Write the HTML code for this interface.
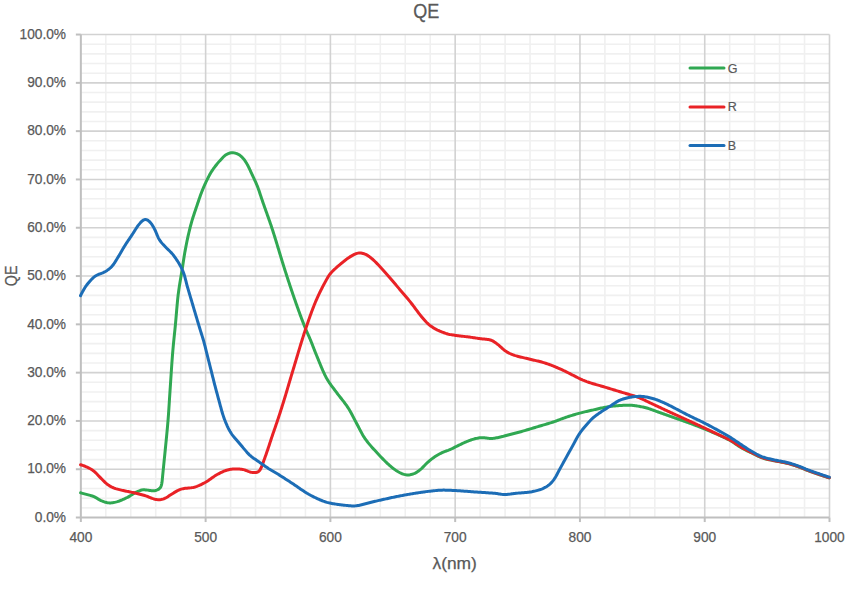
<!DOCTYPE html>
<html><head><meta charset="utf-8"><style>
html,body{margin:0;padding:0;background:#fff;}
body{width:864px;height:594px;overflow:hidden;}
svg{display:block;}
text{font-family:"Liberation Sans",sans-serif;fill:#595959;}
.lab{font-size:14.6px;stroke:#595959;stroke-width:0.25px;}
.title{font-size:21px;stroke:#595959;stroke-width:0.3px;}
.axt{font-size:17px;stroke:#595959;stroke-width:0.25px;}
.axt2{font-size:16px;stroke:#595959;stroke-width:0.25px;}
.leg{font-size:12.5px;stroke:#595959;stroke-width:0.2px;}
</style></head><body>
<svg width="864" height="594" viewBox="0 0 864 594">
<rect width="864" height="594" fill="#fff"/>
<g transform="translate(0,0.3)">
<line x1="105.80" y1="34.25" x2="105.80" y2="517.25" stroke="#f0f0f0" stroke-width="1.6"/>
<line x1="130.76" y1="34.25" x2="130.76" y2="517.25" stroke="#f0f0f0" stroke-width="1.6"/>
<line x1="155.71" y1="34.25" x2="155.71" y2="517.25" stroke="#f0f0f0" stroke-width="1.6"/>
<line x1="180.67" y1="34.25" x2="180.67" y2="517.25" stroke="#f0f0f0" stroke-width="1.6"/>
<line x1="230.58" y1="34.25" x2="230.58" y2="517.25" stroke="#f0f0f0" stroke-width="1.6"/>
<line x1="255.53" y1="34.25" x2="255.53" y2="517.25" stroke="#f0f0f0" stroke-width="1.6"/>
<line x1="280.49" y1="34.25" x2="280.49" y2="517.25" stroke="#f0f0f0" stroke-width="1.6"/>
<line x1="305.44" y1="34.25" x2="305.44" y2="517.25" stroke="#f0f0f0" stroke-width="1.6"/>
<line x1="355.36" y1="34.25" x2="355.36" y2="517.25" stroke="#f0f0f0" stroke-width="1.6"/>
<line x1="380.31" y1="34.25" x2="380.31" y2="517.25" stroke="#f0f0f0" stroke-width="1.6"/>
<line x1="405.26" y1="34.25" x2="405.26" y2="517.25" stroke="#f0f0f0" stroke-width="1.6"/>
<line x1="430.22" y1="34.25" x2="430.22" y2="517.25" stroke="#f0f0f0" stroke-width="1.6"/>
<line x1="480.13" y1="34.25" x2="480.13" y2="517.25" stroke="#f0f0f0" stroke-width="1.6"/>
<line x1="505.08" y1="34.25" x2="505.08" y2="517.25" stroke="#f0f0f0" stroke-width="1.6"/>
<line x1="530.04" y1="34.25" x2="530.04" y2="517.25" stroke="#f0f0f0" stroke-width="1.6"/>
<line x1="555.00" y1="34.25" x2="555.00" y2="517.25" stroke="#f0f0f0" stroke-width="1.6"/>
<line x1="604.90" y1="34.25" x2="604.90" y2="517.25" stroke="#f0f0f0" stroke-width="1.6"/>
<line x1="629.86" y1="34.25" x2="629.86" y2="517.25" stroke="#f0f0f0" stroke-width="1.6"/>
<line x1="654.81" y1="34.25" x2="654.81" y2="517.25" stroke="#f0f0f0" stroke-width="1.6"/>
<line x1="679.77" y1="34.25" x2="679.77" y2="517.25" stroke="#f0f0f0" stroke-width="1.6"/>
<line x1="729.68" y1="34.25" x2="729.68" y2="517.25" stroke="#f0f0f0" stroke-width="1.6"/>
<line x1="754.63" y1="34.25" x2="754.63" y2="517.25" stroke="#f0f0f0" stroke-width="1.6"/>
<line x1="779.59" y1="34.25" x2="779.59" y2="517.25" stroke="#f0f0f0" stroke-width="1.6"/>
<line x1="804.54" y1="34.25" x2="804.54" y2="517.25" stroke="#f0f0f0" stroke-width="1.6"/>
<line x1="80.85" y1="507.59" x2="829.50" y2="507.59" stroke="#f0f0f0" stroke-width="1.6"/>
<line x1="80.85" y1="497.93" x2="829.50" y2="497.93" stroke="#f0f0f0" stroke-width="1.6"/>
<line x1="80.85" y1="488.27" x2="829.50" y2="488.27" stroke="#f0f0f0" stroke-width="1.6"/>
<line x1="80.85" y1="478.61" x2="829.50" y2="478.61" stroke="#f0f0f0" stroke-width="1.6"/>
<line x1="80.85" y1="459.29" x2="829.50" y2="459.29" stroke="#f0f0f0" stroke-width="1.6"/>
<line x1="80.85" y1="449.63" x2="829.50" y2="449.63" stroke="#f0f0f0" stroke-width="1.6"/>
<line x1="80.85" y1="439.97" x2="829.50" y2="439.97" stroke="#f0f0f0" stroke-width="1.6"/>
<line x1="80.85" y1="430.31" x2="829.50" y2="430.31" stroke="#f0f0f0" stroke-width="1.6"/>
<line x1="80.85" y1="410.99" x2="829.50" y2="410.99" stroke="#f0f0f0" stroke-width="1.6"/>
<line x1="80.85" y1="401.33" x2="829.50" y2="401.33" stroke="#f0f0f0" stroke-width="1.6"/>
<line x1="80.85" y1="391.67" x2="829.50" y2="391.67" stroke="#f0f0f0" stroke-width="1.6"/>
<line x1="80.85" y1="382.01" x2="829.50" y2="382.01" stroke="#f0f0f0" stroke-width="1.6"/>
<line x1="80.85" y1="362.69" x2="829.50" y2="362.69" stroke="#f0f0f0" stroke-width="1.6"/>
<line x1="80.85" y1="353.03" x2="829.50" y2="353.03" stroke="#f0f0f0" stroke-width="1.6"/>
<line x1="80.85" y1="343.37" x2="829.50" y2="343.37" stroke="#f0f0f0" stroke-width="1.6"/>
<line x1="80.85" y1="333.71" x2="829.50" y2="333.71" stroke="#f0f0f0" stroke-width="1.6"/>
<line x1="80.85" y1="314.39" x2="829.50" y2="314.39" stroke="#f0f0f0" stroke-width="1.6"/>
<line x1="80.85" y1="304.73" x2="829.50" y2="304.73" stroke="#f0f0f0" stroke-width="1.6"/>
<line x1="80.85" y1="295.07" x2="829.50" y2="295.07" stroke="#f0f0f0" stroke-width="1.6"/>
<line x1="80.85" y1="285.41" x2="829.50" y2="285.41" stroke="#f0f0f0" stroke-width="1.6"/>
<line x1="80.85" y1="266.09" x2="829.50" y2="266.09" stroke="#f0f0f0" stroke-width="1.6"/>
<line x1="80.85" y1="256.43" x2="829.50" y2="256.43" stroke="#f0f0f0" stroke-width="1.6"/>
<line x1="80.85" y1="246.77" x2="829.50" y2="246.77" stroke="#f0f0f0" stroke-width="1.6"/>
<line x1="80.85" y1="237.11" x2="829.50" y2="237.11" stroke="#f0f0f0" stroke-width="1.6"/>
<line x1="80.85" y1="217.79" x2="829.50" y2="217.79" stroke="#f0f0f0" stroke-width="1.6"/>
<line x1="80.85" y1="208.13" x2="829.50" y2="208.13" stroke="#f0f0f0" stroke-width="1.6"/>
<line x1="80.85" y1="198.47" x2="829.50" y2="198.47" stroke="#f0f0f0" stroke-width="1.6"/>
<line x1="80.85" y1="188.81" x2="829.50" y2="188.81" stroke="#f0f0f0" stroke-width="1.6"/>
<line x1="80.85" y1="169.49" x2="829.50" y2="169.49" stroke="#f0f0f0" stroke-width="1.6"/>
<line x1="80.85" y1="159.83" x2="829.50" y2="159.83" stroke="#f0f0f0" stroke-width="1.6"/>
<line x1="80.85" y1="150.17" x2="829.50" y2="150.17" stroke="#f0f0f0" stroke-width="1.6"/>
<line x1="80.85" y1="140.51" x2="829.50" y2="140.51" stroke="#f0f0f0" stroke-width="1.6"/>
<line x1="80.85" y1="121.19" x2="829.50" y2="121.19" stroke="#f0f0f0" stroke-width="1.6"/>
<line x1="80.85" y1="111.53" x2="829.50" y2="111.53" stroke="#f0f0f0" stroke-width="1.6"/>
<line x1="80.85" y1="101.87" x2="829.50" y2="101.87" stroke="#f0f0f0" stroke-width="1.6"/>
<line x1="80.85" y1="92.21" x2="829.50" y2="92.21" stroke="#f0f0f0" stroke-width="1.6"/>
<line x1="80.85" y1="72.89" x2="829.50" y2="72.89" stroke="#f0f0f0" stroke-width="1.6"/>
<line x1="80.85" y1="63.23" x2="829.50" y2="63.23" stroke="#f0f0f0" stroke-width="1.6"/>
<line x1="80.85" y1="53.57" x2="829.50" y2="53.57" stroke="#f0f0f0" stroke-width="1.6"/>
<line x1="80.85" y1="43.91" x2="829.50" y2="43.91" stroke="#f0f0f0" stroke-width="1.6"/>
<line x1="205.62" y1="34.25" x2="205.62" y2="517.25" stroke="#d2d2d2" stroke-width="1.6"/>
<line x1="330.40" y1="34.25" x2="330.40" y2="517.25" stroke="#d2d2d2" stroke-width="1.6"/>
<line x1="455.17" y1="34.25" x2="455.17" y2="517.25" stroke="#d2d2d2" stroke-width="1.6"/>
<line x1="579.95" y1="34.25" x2="579.95" y2="517.25" stroke="#d2d2d2" stroke-width="1.6"/>
<line x1="704.73" y1="34.25" x2="704.73" y2="517.25" stroke="#d2d2d2" stroke-width="1.6"/>
<line x1="829.50" y1="34.25" x2="829.50" y2="517.25" stroke="#d2d2d2" stroke-width="1.6"/>
<line x1="80.85" y1="468.95" x2="829.50" y2="468.95" stroke="#d2d2d2" stroke-width="1.6"/>
<line x1="80.85" y1="420.65" x2="829.50" y2="420.65" stroke="#d2d2d2" stroke-width="1.6"/>
<line x1="80.85" y1="372.35" x2="829.50" y2="372.35" stroke="#d2d2d2" stroke-width="1.6"/>
<line x1="80.85" y1="324.05" x2="829.50" y2="324.05" stroke="#d2d2d2" stroke-width="1.6"/>
<line x1="80.85" y1="275.75" x2="829.50" y2="275.75" stroke="#d2d2d2" stroke-width="1.6"/>
<line x1="80.85" y1="227.45" x2="829.50" y2="227.45" stroke="#d2d2d2" stroke-width="1.6"/>
<line x1="80.85" y1="179.15" x2="829.50" y2="179.15" stroke="#d2d2d2" stroke-width="1.6"/>
<line x1="80.85" y1="130.85" x2="829.50" y2="130.85" stroke="#d2d2d2" stroke-width="1.6"/>
<line x1="80.85" y1="82.55" x2="829.50" y2="82.55" stroke="#d2d2d2" stroke-width="1.6"/>
<line x1="80.85" y1="34.25" x2="829.50" y2="34.25" stroke="#d2d2d2" stroke-width="1.6"/>
<line x1="80.85" y1="34.25" x2="80.85" y2="521.75" stroke="#bfbfbf" stroke-width="2"/>
<line x1="75.85" y1="517.25" x2="829.50" y2="517.25" stroke="#bfbfbf" stroke-width="2"/>
<line x1="75.85" y1="468.95" x2="80.85" y2="468.95" stroke="#bfbfbf" stroke-width="2"/>
<line x1="75.85" y1="420.65" x2="80.85" y2="420.65" stroke="#bfbfbf" stroke-width="2"/>
<line x1="75.85" y1="372.35" x2="80.85" y2="372.35" stroke="#bfbfbf" stroke-width="2"/>
<line x1="75.85" y1="324.05" x2="80.85" y2="324.05" stroke="#bfbfbf" stroke-width="2"/>
<line x1="75.85" y1="275.75" x2="80.85" y2="275.75" stroke="#bfbfbf" stroke-width="2"/>
<line x1="75.85" y1="227.45" x2="80.85" y2="227.45" stroke="#bfbfbf" stroke-width="2"/>
<line x1="75.85" y1="179.15" x2="80.85" y2="179.15" stroke="#bfbfbf" stroke-width="2"/>
<line x1="75.85" y1="130.85" x2="80.85" y2="130.85" stroke="#bfbfbf" stroke-width="2"/>
<line x1="75.85" y1="82.55" x2="80.85" y2="82.55" stroke="#bfbfbf" stroke-width="2"/>
<line x1="75.85" y1="34.25" x2="80.85" y2="34.25" stroke="#bfbfbf" stroke-width="2"/>
<line x1="205.62" y1="517.25" x2="205.62" y2="521.75" stroke="#bfbfbf" stroke-width="2"/>
<line x1="330.40" y1="517.25" x2="330.40" y2="521.75" stroke="#bfbfbf" stroke-width="2"/>
<line x1="455.17" y1="517.25" x2="455.17" y2="521.75" stroke="#bfbfbf" stroke-width="2"/>
<line x1="579.95" y1="517.25" x2="579.95" y2="521.75" stroke="#bfbfbf" stroke-width="2"/>
<line x1="704.73" y1="517.25" x2="704.73" y2="521.75" stroke="#bfbfbf" stroke-width="2"/>
<line x1="829.50" y1="517.25" x2="829.50" y2="521.75" stroke="#bfbfbf" stroke-width="2"/>
</g>
<text x="66" y="521.75" text-anchor="end" class="lab" textLength="31.22" lengthAdjust="spacingAndGlyphs">0.0%</text>
<text x="66" y="473.45" text-anchor="end" class="lab" textLength="38.84" lengthAdjust="spacingAndGlyphs">10.0%</text>
<text x="66" y="425.15" text-anchor="end" class="lab" textLength="38.84" lengthAdjust="spacingAndGlyphs">20.0%</text>
<text x="66" y="376.85" text-anchor="end" class="lab" textLength="38.84" lengthAdjust="spacingAndGlyphs">30.0%</text>
<text x="66" y="328.55" text-anchor="end" class="lab" textLength="38.84" lengthAdjust="spacingAndGlyphs">40.0%</text>
<text x="66" y="280.25" text-anchor="end" class="lab" textLength="38.84" lengthAdjust="spacingAndGlyphs">50.0%</text>
<text x="66" y="231.95" text-anchor="end" class="lab" textLength="38.84" lengthAdjust="spacingAndGlyphs">60.0%</text>
<text x="66" y="183.65" text-anchor="end" class="lab" textLength="38.84" lengthAdjust="spacingAndGlyphs">70.0%</text>
<text x="66" y="135.35" text-anchor="end" class="lab" textLength="38.84" lengthAdjust="spacingAndGlyphs">80.0%</text>
<text x="66" y="87.05" text-anchor="end" class="lab" textLength="38.84" lengthAdjust="spacingAndGlyphs">90.0%</text>
<text x="66" y="38.75" text-anchor="end" class="lab" textLength="46.46" lengthAdjust="spacingAndGlyphs">100.0%</text>
<text x="80.85" y="542" text-anchor="middle" class="lab" textLength="22.85" lengthAdjust="spacingAndGlyphs">400</text>
<text x="205.62" y="542" text-anchor="middle" class="lab" textLength="22.85" lengthAdjust="spacingAndGlyphs">500</text>
<text x="330.40" y="542" text-anchor="middle" class="lab" textLength="22.85" lengthAdjust="spacingAndGlyphs">600</text>
<text x="455.17" y="542" text-anchor="middle" class="lab" textLength="22.85" lengthAdjust="spacingAndGlyphs">700</text>
<text x="579.95" y="542" text-anchor="middle" class="lab" textLength="22.85" lengthAdjust="spacingAndGlyphs">800</text>
<text x="704.73" y="542" text-anchor="middle" class="lab" textLength="22.85" lengthAdjust="spacingAndGlyphs">900</text>
<text x="829.50" y="542" text-anchor="middle" class="lab" textLength="30.47" lengthAdjust="spacingAndGlyphs">1000</text>
<text x="426.2" y="18" text-anchor="middle" class="title" textLength="26" lengthAdjust="spacingAndGlyphs">QE</text>
<text x="454.7" y="569.3" text-anchor="middle" class="axt" textLength="44.5" lengthAdjust="spacingAndGlyphs">λ(nm)</text>
<text transform="translate(17.3,275.9) rotate(-90)" x="0" y="0" text-anchor="middle" class="axt2" textLength="20.6" lengthAdjust="spacingAndGlyphs">QE</text>
<g transform="translate(0,0.3)">
<path d="M80.60,492.50 L81.56,492.77 L82.52,493.04 L83.49,493.31 L84.45,493.58 L85.41,493.85 L86.38,494.11 L87.35,494.37 L88.31,494.62 L89.28,494.87 L90.25,495.12 L91.21,495.38 L92.17,495.67 L93.11,495.99 L94.04,496.37 L94.93,496.80 L95.81,497.28 L96.66,497.79 L97.51,498.33 L98.35,498.86 L99.21,499.37 L100.09,499.85 L100.98,500.28 L101.90,500.68 L102.83,501.05 L103.76,501.40 L104.71,501.72 L105.66,502.01 L106.63,502.26 L107.61,502.44 L108.59,502.57 L109.59,502.63 L110.58,502.62 L111.58,502.55 L112.57,502.44 L113.55,502.28 L114.53,502.09 L115.51,501.86 L116.47,501.61 L117.43,501.33 L118.38,501.01 L119.32,500.68 L120.25,500.32 L121.18,499.96 L122.11,499.58 L123.03,499.18 L123.94,498.78 L124.85,498.36 L125.75,497.92 L126.64,497.47 L127.53,497.01 L128.41,496.53 L129.28,496.04 L130.14,495.54 L130.99,495.01 L131.82,494.46 L132.65,493.91 L133.49,493.36 L134.34,492.84 L135.22,492.36 L136.11,491.92 L137.02,491.51 L137.94,491.12 L138.86,490.73 L139.79,490.36 L140.72,490.01 L141.67,489.74 L142.64,489.56 L143.62,489.49 L144.61,489.51 L145.61,489.58 L146.60,489.69 L147.59,489.83 L148.58,489.98 L149.57,490.13 L150.55,490.28 L151.54,490.41 L152.53,490.48 L153.52,490.47 L154.51,490.36 L155.48,490.17 L156.43,489.90 L157.36,489.56 L158.24,489.13 L159.05,488.59 L159.78,487.94 L160.38,487.19 L160.86,486.35 L161.23,485.44 L161.51,484.49 L161.73,483.52 L161.91,482.54 L162.05,481.55 L162.16,480.56 L162.26,479.56 L162.36,478.57 L162.45,477.57 L162.55,476.58 L162.64,475.58 L162.74,474.59 L162.84,473.59 L162.94,472.60 L163.04,471.60 L163.14,470.61 L163.24,469.61 L163.34,468.62 L163.44,467.62 L163.54,466.63 L163.64,465.63 L163.74,464.64 L163.84,463.64 L163.94,462.65 L164.04,461.65 L164.14,460.66 L164.24,459.66 L164.34,458.67 L164.44,457.67 L164.54,456.68 L164.64,455.68 L164.74,454.69 L164.84,453.69 L164.94,452.70 L165.04,451.70 L165.14,450.71 L165.23,449.71 L165.33,448.72 L165.43,447.72 L165.53,446.72 L165.62,445.73 L165.72,444.73 L165.82,443.74 L165.92,442.74 L166.02,441.75 L166.12,440.75 L166.21,439.76 L166.31,438.76 L166.41,437.77 L166.51,436.77 L166.61,435.78 L166.70,434.78 L166.80,433.79 L166.89,432.79 L166.99,431.80 L167.08,430.80 L167.18,429.80 L167.27,428.81 L167.36,427.81 L167.45,426.82 L167.54,425.82 L167.63,424.83 L167.71,423.83 L167.80,422.83 L167.88,421.84 L167.97,420.84 L168.05,419.84 L168.13,418.85 L168.21,417.85 L168.29,416.85 L168.36,415.86 L168.44,414.86 L168.51,413.86 L168.58,412.86 L168.65,411.87 L168.72,410.87 L168.78,409.87 L168.85,408.87 L168.91,407.87 L168.98,406.88 L169.04,405.88 L169.11,404.88 L169.17,403.88 L169.23,402.88 L169.30,401.89 L169.36,400.89 L169.42,399.89 L169.49,398.89 L169.55,397.89 L169.61,396.90 L169.68,395.90 L169.74,394.90 L169.81,393.90 L169.87,392.91 L169.94,391.91 L170.01,390.91 L170.07,389.91 L170.14,388.91 L170.21,387.92 L170.27,386.92 L170.34,385.92 L170.41,384.92 L170.47,383.93 L170.54,382.93 L170.60,381.93 L170.67,380.93 L170.73,379.93 L170.80,378.94 L170.86,377.94 L170.93,376.94 L171.00,375.94 L171.06,374.94 L171.13,373.95 L171.19,372.95 L171.26,371.95 L171.33,370.95 L171.39,369.96 L171.46,368.96 L171.53,367.96 L171.59,366.96 L171.66,365.96 L171.73,364.97 L171.80,363.97 L171.87,362.97 L171.94,361.97 L172.01,360.98 L172.08,359.98 L172.16,358.98 L172.23,357.98 L172.31,356.99 L172.38,355.99 L172.46,354.99 L172.54,354.00 L172.62,353.00 L172.70,352.00 L172.79,351.01 L172.87,350.01 L172.96,349.01 L173.05,348.02 L173.14,347.02 L173.23,346.03 L173.32,345.03 L173.42,344.04 L173.52,343.04 L173.61,342.05 L173.71,341.05 L173.81,340.06 L173.92,339.06 L174.02,338.07 L174.12,337.07 L174.22,336.08 L174.33,335.08 L174.43,334.09 L174.54,333.09 L174.64,332.10 L174.74,331.10 L174.85,330.11 L174.95,329.11 L175.05,328.12 L175.15,327.12 L175.25,326.13 L175.34,325.13 L175.44,324.14 L175.53,323.14 L175.62,322.15 L175.71,321.15 L175.80,320.15 L175.89,319.16 L175.98,318.16 L176.06,317.17 L176.15,316.17 L176.23,315.17 L176.32,314.18 L176.40,313.18 L176.48,312.18 L176.57,311.19 L176.65,310.19 L176.74,309.19 L176.82,308.20 L176.91,307.20 L176.99,306.21 L177.08,305.21 L177.17,304.21 L177.26,303.22 L177.35,302.22 L177.44,301.23 L177.54,300.23 L177.64,299.24 L177.74,298.24 L177.85,297.25 L177.96,296.25 L178.07,295.26 L178.20,294.27 L178.32,293.27 L178.45,292.28 L178.59,291.29 L178.72,290.30 L178.86,289.31 L179.01,288.32 L179.15,287.33 L179.30,286.34 L179.45,285.36 L179.61,284.37 L179.77,283.38 L179.93,282.39 L180.09,281.41 L180.26,280.42 L180.42,279.43 L180.59,278.45 L180.76,277.46 L180.92,276.48 L181.09,275.49 L181.26,274.50 L181.42,273.52 L181.59,272.53 L181.75,271.55 L181.91,270.56 L182.07,269.57 L182.22,268.58 L182.38,267.59 L182.53,266.61 L182.68,265.62 L182.83,264.63 L182.99,263.64 L183.14,262.65 L183.29,261.66 L183.44,260.68 L183.60,259.69 L183.75,258.70 L183.91,257.71 L184.07,256.73 L184.23,255.74 L184.39,254.75 L184.55,253.76 L184.72,252.78 L184.89,251.79 L185.07,250.81 L185.24,249.83 L185.43,248.84 L185.61,247.86 L185.80,246.88 L185.99,245.89 L186.18,244.91 L186.37,243.93 L186.57,242.95 L186.77,241.97 L186.97,240.99 L187.17,240.01 L187.38,239.04 L187.59,238.06 L187.81,237.08 L188.02,236.10 L188.24,235.13 L188.47,234.15 L188.69,233.18 L188.92,232.21 L189.15,231.23 L189.38,230.26 L189.62,229.29 L189.86,228.32 L190.10,227.35 L190.34,226.38 L190.59,225.41 L190.85,224.44 L191.11,223.48 L191.37,222.51 L191.65,221.55 L191.93,220.59 L192.22,219.63 L192.51,218.68 L192.81,217.72 L193.11,216.77 L193.41,215.82 L193.72,214.87 L194.03,213.92 L194.35,212.97 L194.66,212.02 L194.98,211.07 L195.31,210.12 L195.63,209.18 L195.95,208.23 L196.27,207.28 L196.59,206.34 L196.92,205.39 L197.24,204.44 L197.55,203.50 L197.87,202.55 L198.19,201.60 L198.51,200.65 L198.83,199.70 L199.15,198.76 L199.47,197.81 L199.80,196.86 L200.13,195.92 L200.47,194.98 L200.81,194.04 L201.16,193.10 L201.52,192.17 L201.88,191.24 L202.25,190.31 L202.63,189.38 L203.01,188.46 L203.39,187.53 L203.78,186.61 L204.18,185.70 L204.58,184.78 L204.99,183.87 L205.41,182.96 L205.83,182.06 L206.26,181.15 L206.70,180.25 L207.14,179.35 L207.58,178.46 L208.03,177.56 L208.48,176.67 L208.94,175.78 L209.41,174.90 L209.89,174.03 L210.39,173.16 L210.90,172.30 L211.42,171.45 L211.96,170.60 L212.51,169.77 L213.08,168.94 L213.65,168.13 L214.24,167.32 L214.84,166.52 L215.45,165.72 L216.06,164.94 L216.69,164.16 L217.32,163.38 L217.96,162.61 L218.60,161.85 L219.26,161.09 L219.92,160.34 L220.59,159.60 L221.27,158.87 L221.95,158.13 L222.63,157.40 L223.32,156.68 L224.04,155.99 L224.79,155.34 L225.59,154.75 L226.43,154.22 L227.31,153.76 L228.22,153.35 L229.15,153.00 L230.10,152.72 L231.07,152.53 L232.05,152.44 L233.04,152.45 L234.02,152.57 L234.99,152.77 L235.95,153.04 L236.89,153.36 L237.80,153.75 L238.68,154.21 L239.52,154.75 L240.31,155.34 L241.07,155.99 L241.80,156.66 L242.51,157.37 L243.19,158.10 L243.83,158.87 L244.43,159.66 L245.01,160.48 L245.55,161.31 L246.08,162.16 L246.60,163.02 L247.10,163.88 L247.59,164.76 L248.06,165.64 L248.51,166.53 L248.95,167.42 L249.38,168.33 L249.81,169.23 L250.23,170.14 L250.64,171.05 L251.06,171.96 L251.47,172.87 L251.89,173.78 L252.32,174.68 L252.74,175.59 L253.17,176.49 L253.59,177.40 L254.02,178.30 L254.44,179.21 L254.86,180.12 L255.27,181.03 L255.68,181.94 L256.08,182.86 L256.47,183.78 L256.86,184.70 L257.24,185.63 L257.61,186.55 L257.96,187.49 L258.31,188.43 L258.65,189.37 L258.98,190.31 L259.30,191.26 L259.62,192.21 L259.93,193.15 L260.25,194.10 L260.56,195.06 L260.87,196.01 L261.18,196.96 L261.50,197.90 L261.81,198.85 L262.14,199.80 L262.46,200.75 L262.79,201.69 L263.12,202.63 L263.45,203.58 L263.78,204.52 L264.11,205.46 L264.45,206.41 L264.78,207.35 L265.12,208.29 L265.46,209.23 L265.79,210.17 L266.13,211.12 L266.47,212.06 L266.80,213.00 L267.14,213.94 L267.47,214.88 L267.81,215.83 L268.14,216.77 L268.47,217.71 L268.81,218.65 L269.14,219.60 L269.47,220.54 L269.79,221.49 L270.12,222.43 L270.44,223.38 L270.77,224.32 L271.09,225.27 L271.41,226.22 L271.72,227.17 L272.04,228.12 L272.35,229.07 L272.66,230.02 L272.97,230.97 L273.27,231.92 L273.58,232.88 L273.88,233.83 L274.18,234.78 L274.48,235.74 L274.78,236.69 L275.07,237.65 L275.37,238.60 L275.66,239.56 L275.96,240.51 L276.25,241.47 L276.54,242.42 L276.83,243.38 L277.13,244.34 L277.42,245.29 L277.71,246.25 L278.00,247.21 L278.29,248.17 L278.58,249.12 L278.86,250.08 L279.15,251.04 L279.44,251.99 L279.73,252.95 L280.02,253.91 L280.31,254.87 L280.60,255.82 L280.89,256.78 L281.18,257.74 L281.47,258.69 L281.77,259.65 L282.06,260.61 L282.35,261.56 L282.65,262.52 L282.94,263.47 L283.24,264.43 L283.54,265.38 L283.84,266.34 L284.14,267.29 L284.44,268.24 L284.74,269.20 L285.05,270.15 L285.35,271.10 L285.66,272.05 L285.97,273.00 L286.28,273.96 L286.58,274.91 L286.89,275.86 L287.20,276.81 L287.51,277.76 L287.82,278.71 L288.13,279.66 L288.44,280.61 L288.75,281.56 L289.07,282.51 L289.38,283.46 L289.69,284.41 L290.01,285.36 L290.32,286.31 L290.64,287.26 L290.96,288.21 L291.27,289.15 L291.59,290.10 L291.91,291.05 L292.23,292.00 L292.56,292.94 L292.88,293.89 L293.20,294.84 L293.53,295.78 L293.85,296.73 L294.18,297.67 L294.51,298.62 L294.84,299.56 L295.17,300.50 L295.50,301.45 L295.84,302.39 L296.17,303.33 L296.50,304.28 L296.84,305.22 L297.17,306.16 L297.51,307.10 L297.85,308.04 L298.18,308.98 L298.52,309.93 L298.86,310.87 L299.20,311.81 L299.55,312.75 L299.89,313.69 L300.23,314.62 L300.58,315.56 L300.93,316.50 L301.28,317.44 L301.63,318.37 L301.98,319.31 L302.33,320.25 L302.69,321.18 L303.05,322.11 L303.41,323.05 L303.77,323.98 L304.13,324.91 L304.50,325.84 L304.87,326.77 L305.25,327.70 L305.63,328.62 L306.01,329.54 L306.41,330.46 L306.81,331.38 L307.21,332.29 L307.62,333.21 L308.03,334.12 L308.43,335.03 L308.84,335.94 L309.25,336.86 L309.65,337.78 L310.04,338.69 L310.43,339.62 L310.81,340.54 L311.19,341.47 L311.56,342.39 L311.93,343.32 L312.29,344.26 L312.66,345.19 L313.02,346.12 L313.38,347.05 L313.74,347.99 L314.10,348.92 L314.46,349.85 L314.83,350.78 L315.20,351.71 L315.57,352.64 L315.94,353.57 L316.32,354.49 L316.70,355.42 L317.08,356.34 L317.46,357.27 L317.84,358.19 L318.21,359.12 L318.59,360.05 L318.96,360.97 L319.34,361.90 L319.72,362.83 L320.10,363.75 L320.48,364.68 L320.86,365.60 L321.24,366.52 L321.63,367.45 L322.02,368.37 L322.42,369.28 L322.82,370.20 L323.22,371.11 L323.64,372.03 L324.05,372.93 L324.48,373.84 L324.92,374.74 L325.37,375.63 L325.83,376.52 L326.30,377.40 L326.79,378.27 L327.29,379.13 L327.81,379.99 L328.34,380.84 L328.89,381.67 L329.44,382.51 L330.00,383.33 L330.58,384.15 L331.16,384.96 L331.75,385.77 L332.35,386.57 L332.95,387.37 L333.55,388.17 L334.15,388.97 L334.76,389.77 L335.36,390.57 L335.95,391.37 L336.55,392.17 L337.15,392.97 L337.75,393.77 L338.36,394.56 L338.98,395.35 L339.59,396.14 L340.21,396.92 L340.83,397.71 L341.46,398.49 L342.08,399.27 L342.69,400.06 L343.31,400.85 L343.92,401.64 L344.52,402.44 L345.12,403.24 L345.71,404.05 L346.29,404.86 L346.87,405.68 L347.43,406.50 L347.98,407.34 L348.53,408.18 L349.05,409.03 L349.57,409.88 L350.07,410.75 L350.56,411.62 L351.05,412.49 L351.52,413.37 L351.99,414.26 L352.45,415.14 L352.92,416.03 L353.37,416.92 L353.83,417.81 L354.29,418.70 L354.75,419.58 L355.21,420.47 L355.68,421.35 L356.15,422.24 L356.62,423.12 L357.09,424.00 L357.55,424.89 L358.02,425.77 L358.48,426.66 L358.94,427.55 L359.39,428.44 L359.85,429.33 L360.31,430.22 L360.78,431.10 L361.25,431.98 L361.72,432.86 L362.21,433.74 L362.70,434.61 L363.21,435.47 L363.73,436.32 L364.27,437.16 L364.83,437.99 L365.40,438.81 L365.98,439.62 L366.58,440.43 L367.19,441.22 L367.80,442.01 L368.43,442.79 L369.07,443.56 L369.71,444.32 L370.36,445.08 L371.02,445.84 L371.68,446.59 L372.34,447.34 L373.01,448.08 L373.68,448.83 L374.34,449.57 L375.01,450.31 L375.68,451.05 L376.36,451.79 L377.03,452.53 L377.72,453.26 L378.40,453.99 L379.09,454.72 L379.78,455.44 L380.47,456.16 L381.16,456.88 L381.86,457.60 L382.55,458.32 L383.25,459.04 L383.95,459.76 L384.65,460.47 L385.36,461.17 L386.07,461.87 L386.79,462.56 L387.52,463.25 L388.26,463.92 L389.01,464.59 L389.75,465.25 L390.51,465.91 L391.27,466.55 L392.04,467.19 L392.83,467.81 L393.62,468.42 L394.43,469.01 L395.25,469.57 L396.08,470.13 L396.93,470.66 L397.78,471.19 L398.64,471.70 L399.51,472.19 L400.40,472.64 L401.30,473.06 L402.23,473.44 L403.17,473.77 L404.12,474.07 L405.08,474.32 L406.06,474.52 L407.04,474.64 L408.03,474.68 L409.02,474.63 L410.00,474.49 L410.97,474.28 L411.94,474.02 L412.89,473.71 L413.82,473.37 L414.74,472.98 L415.64,472.55 L416.50,472.06 L417.35,471.53 L418.17,470.96 L418.98,470.37 L419.77,469.76 L420.54,469.13 L421.29,468.47 L422.01,467.78 L422.72,467.07 L423.41,466.35 L424.10,465.62 L424.78,464.89 L425.48,464.18 L426.18,463.47 L426.91,462.78 L427.65,462.11 L428.39,461.44 L429.15,460.79 L429.91,460.14 L430.68,459.51 L431.46,458.88 L432.26,458.27 L433.06,457.68 L433.88,457.11 L434.71,456.56 L435.56,456.02 L436.41,455.49 L437.26,454.97 L438.12,454.47 L438.99,453.98 L439.87,453.50 L440.76,453.03 L441.65,452.59 L442.55,452.16 L443.47,451.75 L444.39,451.37 L445.32,451.01 L446.26,450.67 L447.21,450.34 L448.15,450.00 L449.08,449.64 L450.00,449.26 L450.92,448.86 L451.82,448.44 L452.72,448.00 L453.62,447.56 L454.51,447.11 L455.40,446.65 L456.29,446.20 L457.19,445.75 L458.08,445.30 L458.98,444.86 L459.88,444.43 L460.78,443.99 L461.68,443.56 L462.58,443.13 L463.49,442.70 L464.40,442.28 L465.31,441.87 L466.23,441.47 L467.15,441.09 L468.08,440.73 L469.02,440.37 L469.96,440.03 L470.90,439.70 L471.85,439.38 L472.80,439.08 L473.75,438.78 L474.72,438.51 L475.68,438.27 L476.66,438.05 L477.64,437.86 L478.62,437.69 L479.61,437.55 L480.60,437.44 L481.60,437.38 L482.60,437.37 L483.59,437.42 L484.59,437.51 L485.58,437.63 L486.57,437.76 L487.56,437.89 L488.55,438.01 L489.55,438.09 L490.54,438.14 L491.54,438.13 L492.54,438.09 L493.53,438.00 L494.52,437.87 L495.51,437.72 L496.49,437.55 L497.48,437.36 L498.46,437.17 L499.44,436.96 L500.41,436.75 L501.39,436.52 L502.36,436.28 L503.32,436.03 L504.29,435.77 L505.25,435.50 L506.21,435.22 L507.17,434.95 L508.14,434.67 L509.10,434.41 L510.07,434.14 L511.03,433.89 L512.00,433.64 L512.97,433.39 L513.94,433.15 L514.91,432.90 L515.88,432.66 L516.85,432.41 L517.82,432.16 L518.78,431.91 L519.75,431.65 L520.72,431.39 L521.68,431.13 L522.64,430.86 L523.61,430.59 L524.57,430.32 L525.53,430.04 L526.49,429.76 L527.45,429.48 L528.41,429.19 L529.36,428.90 L530.32,428.61 L531.28,428.32 L532.23,428.03 L533.19,427.74 L534.15,427.45 L535.10,427.15 L536.06,426.86 L537.02,426.57 L537.97,426.28 L538.93,425.99 L539.89,425.71 L540.85,425.43 L541.81,425.14 L542.77,424.86 L543.73,424.59 L544.69,424.31 L545.65,424.03 L546.61,423.75 L547.57,423.47 L548.53,423.18 L549.48,422.89 L550.44,422.60 L551.39,422.30 L552.34,421.99 L553.29,421.67 L554.24,421.35 L555.18,421.02 L556.12,420.67 L557.06,420.33 L558.00,419.97 L558.93,419.62 L559.86,419.26 L560.80,418.90 L561.73,418.55 L562.67,418.19 L563.61,417.85 L564.55,417.51 L565.49,417.17 L566.43,416.85 L567.38,416.53 L568.33,416.22 L569.28,415.91 L570.24,415.61 L571.19,415.31 L572.15,415.02 L573.10,414.72 L574.06,414.44 L575.02,414.15 L575.98,413.87 L576.94,413.60 L577.90,413.33 L578.87,413.07 L579.84,412.81 L580.80,412.55 L581.77,412.31 L582.74,412.06 L583.71,411.82 L584.68,411.59 L585.66,411.36 L586.63,411.13 L587.60,410.90 L588.58,410.67 L589.55,410.45 L590.53,410.23 L591.50,410.01 L592.48,409.79 L593.45,409.56 L594.43,409.34 L595.40,409.12 L596.38,408.89 L597.35,408.66 L598.32,408.43 L599.30,408.20 L600.27,407.98 L601.25,407.76 L602.23,407.55 L603.21,407.35 L604.19,407.16 L605.17,406.98 L606.16,406.81 L607.14,406.64 L608.13,406.49 L609.12,406.33 L610.11,406.19 L611.10,406.05 L612.09,405.93 L613.08,405.81 L614.08,405.70 L615.07,405.60 L616.07,405.51 L617.06,405.42 L618.06,405.34 L619.06,405.27 L620.05,405.20 L621.05,405.14 L622.05,405.08 L623.05,405.03 L624.05,404.99 L625.05,404.96 L626.05,404.93 L627.05,404.92 L628.05,404.91 L629.05,404.92 L630.05,404.95 L631.04,404.99 L632.04,405.06 L633.04,405.15 L634.03,405.25 L635.02,405.37 L636.01,405.51 L637.00,405.66 L637.99,405.82 L638.97,406.00 L639.96,406.18 L640.94,406.37 L641.92,406.57 L642.90,406.77 L643.87,406.99 L644.85,407.22 L645.82,407.46 L646.78,407.73 L647.74,408.01 L648.69,408.31 L649.64,408.63 L650.59,408.95 L651.53,409.29 L652.47,409.63 L653.41,409.97 L654.35,410.31 L655.29,410.66 L656.23,411.00 L657.17,411.34 L658.11,411.67 L659.05,412.00 L660.00,412.33 L660.94,412.67 L661.88,413.00 L662.82,413.34 L663.76,413.68 L664.71,414.01 L665.65,414.35 L666.59,414.69 L667.53,415.03 L668.47,415.37 L669.41,415.71 L670.35,416.05 L671.29,416.39 L672.23,416.73 L673.17,417.07 L674.11,417.40 L675.06,417.74 L676.00,418.07 L676.94,418.40 L677.89,418.73 L678.83,419.06 L679.78,419.38 L680.72,419.71 L681.67,420.04 L682.61,420.37 L683.56,420.70 L684.50,421.03 L685.44,421.36 L686.38,421.69 L687.33,422.03 L688.27,422.37 L689.21,422.71 L690.15,423.06 L691.08,423.41 L692.02,423.76 L692.96,424.11 L693.89,424.46 L694.82,424.82 L695.76,425.18 L696.69,425.54 L697.62,425.91 L698.55,426.28 L699.48,426.64 L700.41,427.01 L701.34,427.39 L702.26,427.76 L703.19,428.14 L704.12,428.52 L705.04,428.89 L705.97,429.28 L706.89,429.66 L707.82,430.04 L708.74,430.42 L709.66,430.80 L710.59,431.19 L711.51,431.57 L712.43,431.96 L713.35,432.35 L714.27,432.74 L715.19,433.13 L716.11,433.53 L717.03,433.92 L717.95,434.33 L718.86,434.73 L719.77,435.14 L720.68,435.55 L721.59,435.97 L722.50,436.39 L723.40,436.81 L724.31,437.24 L725.21,437.68 L726.11,438.12 L727.00,438.56 L727.89,439.02 L728.78,439.47 L729.66,439.94 L730.54,440.43 L731.40,440.93 L732.26,441.45 L733.10,441.99 L733.93,442.54 L734.76,443.10 L735.58,443.67 L736.40,444.24 L737.22,444.81 L738.05,445.38 L738.88,445.94 L739.71,446.48 L740.56,447.01 L741.42,447.52 L742.29,448.02 L743.17,448.50 L744.05,448.96 L744.94,449.41 L745.84,449.86 L746.74,450.30 L747.64,450.73 L748.54,451.16 L749.45,451.59 L750.35,452.01 L751.25,452.44 L752.15,452.88 L753.05,453.32 L753.95,453.77 L754.84,454.22 L755.73,454.67 L756.62,455.12 L757.52,455.56 L758.42,455.99 L759.33,456.41 L760.25,456.81 L761.17,457.18 L762.11,457.53 L763.06,457.85 L764.01,458.15 L764.97,458.42 L765.94,458.68 L766.91,458.92 L767.88,459.16 L768.85,459.38 L769.83,459.59 L770.81,459.80 L771.79,460.00 L772.77,460.21 L773.75,460.40 L774.73,460.60 L775.71,460.79 L776.69,460.98 L777.68,461.16 L778.66,461.34 L779.64,461.52 L780.63,461.69 L781.61,461.87 L782.60,462.05 L783.58,462.24 L784.56,462.44 L785.54,462.64 L786.51,462.87 L787.48,463.10 L788.45,463.35 L789.42,463.61 L790.38,463.88 L791.34,464.16 L792.29,464.45 L793.25,464.75 L794.20,465.06 L795.15,465.37 L796.10,465.69 L797.04,466.01 L797.99,466.34 L798.93,466.69 L799.86,467.04 L800.79,467.40 L801.72,467.77 L802.65,468.15 L803.57,468.54 L804.49,468.92 L805.42,469.31 L806.34,469.69 L807.27,470.06 L808.20,470.43 L809.13,470.79 L810.07,471.14 L811.01,471.48 L811.95,471.82 L812.89,472.15 L813.84,472.48 L814.78,472.80 L815.73,473.13 L816.68,473.45 L817.62,473.77 L818.57,474.09 L819.52,474.41 L820.47,474.72 L821.42,475.04 L822.37,475.35 L823.32,475.67 L824.27,475.98 L825.22,476.29 L826.16,476.60 L827.10,476.90 L828.01,477.19 L828.88,477.46 L829.30,477.60" fill="none" stroke="#30a852" stroke-width="3" stroke-linecap="round" stroke-linejoin="round"/>
<path d="M80.60,464.40 L81.55,464.69 L82.50,465.01 L83.44,465.34 L84.37,465.71 L85.30,466.09 L86.22,466.48 L87.13,466.89 L88.04,467.31 L88.93,467.76 L89.81,468.23 L90.68,468.72 L91.53,469.24 L92.37,469.79 L93.19,470.36 L93.98,470.97 L94.75,471.60 L95.49,472.28 L96.20,472.97 L96.90,473.69 L97.59,474.41 L98.27,475.14 L98.95,475.87 L99.64,476.60 L100.34,477.32 L101.04,478.03 L101.74,478.74 L102.45,479.45 L103.15,480.16 L103.86,480.87 L104.57,481.57 L105.29,482.26 L106.03,482.93 L106.79,483.58 L107.58,484.19 L108.39,484.77 L109.23,485.31 L110.08,485.83 L110.95,486.32 L111.84,486.78 L112.74,487.20 L113.66,487.60 L114.59,487.95 L115.54,488.28 L116.49,488.57 L117.45,488.85 L118.42,489.11 L119.39,489.36 L120.36,489.60 L121.33,489.83 L122.30,490.06 L123.28,490.28 L124.26,490.49 L125.24,490.69 L126.22,490.89 L127.20,491.08 L128.18,491.28 L129.16,491.46 L130.14,491.66 L131.12,491.85 L132.10,492.05 L133.08,492.25 L134.06,492.47 L135.03,492.69 L136.00,492.93 L136.98,493.17 L137.94,493.42 L138.91,493.67 L139.88,493.93 L140.84,494.19 L141.81,494.45 L142.77,494.71 L143.74,494.98 L144.70,495.26 L145.65,495.56 L146.60,495.87 L147.54,496.21 L148.47,496.58 L149.39,496.97 L150.31,497.35 L151.24,497.73 L152.17,498.07 L153.12,498.38 L154.08,498.66 L155.05,498.90 L156.03,499.11 L157.01,499.27 L158.00,499.38 L158.99,499.41 L159.98,499.36 L160.97,499.24 L161.94,499.04 L162.90,498.78 L163.85,498.47 L164.77,498.10 L165.67,497.67 L166.54,497.18 L167.38,496.66 L168.22,496.10 L169.05,495.55 L169.88,494.99 L170.72,494.45 L171.56,493.91 L172.41,493.38 L173.26,492.85 L174.11,492.33 L174.97,491.83 L175.84,491.33 L176.71,490.84 L177.59,490.37 L178.49,489.92 L179.39,489.51 L180.32,489.14 L181.27,488.83 L182.23,488.57 L183.21,488.37 L184.19,488.20 L185.18,488.06 L186.17,487.95 L187.17,487.86 L188.16,487.77 L189.16,487.68 L190.15,487.58 L191.15,487.46 L192.13,487.31 L193.12,487.13 L194.09,486.91 L195.05,486.65 L196.01,486.35 L196.95,486.02 L197.88,485.67 L198.81,485.29 L199.72,484.89 L200.63,484.47 L201.53,484.04 L202.43,483.60 L203.32,483.15 L204.21,482.68 L205.08,482.20 L205.95,481.69 L206.80,481.17 L207.64,480.63 L208.47,480.08 L209.30,479.51 L210.12,478.94 L210.93,478.37 L211.75,477.79 L212.57,477.21 L213.39,476.64 L214.22,476.08 L215.05,475.53 L215.90,475.00 L216.75,474.48 L217.62,473.99 L218.50,473.52 L219.39,473.06 L220.28,472.61 L221.18,472.17 L222.08,471.74 L222.99,471.32 L223.91,470.93 L224.84,470.55 L225.77,470.21 L226.72,469.90 L227.68,469.62 L228.65,469.39 L229.63,469.20 L230.62,469.04 L231.61,468.91 L232.60,468.81 L233.60,468.72 L234.60,468.66 L235.60,468.62 L236.59,468.61 L237.59,468.63 L238.59,468.67 L239.59,468.74 L240.58,468.84 L241.57,468.97 L242.56,469.14 L243.53,469.36 L244.49,469.62 L245.44,469.94 L246.37,470.29 L247.30,470.65 L248.23,471.02 L249.17,471.36 L250.12,471.66 L251.08,471.91 L252.06,472.10 L253.05,472.23 L254.04,472.31 L255.03,472.31 L256.00,472.22 L256.94,472.00 L257.83,471.62 L258.64,471.09 L259.35,470.44 L259.96,469.68 L260.47,468.84 L260.91,467.95 L261.31,467.04 L261.70,466.11 L262.07,465.19 L262.43,464.25 L262.78,463.32 L263.12,462.38 L263.46,461.44 L263.79,460.50 L264.13,459.55 L264.47,458.61 L264.80,457.67 L265.14,456.73 L265.47,455.79 L265.81,454.84 L266.14,453.90 L266.47,452.95 L266.79,452.01 L267.12,451.06 L267.44,450.12 L267.77,449.17 L268.09,448.22 L268.40,447.28 L268.72,446.33 L269.03,445.38 L269.34,444.43 L269.65,443.48 L269.96,442.52 L270.27,441.57 L270.58,440.62 L270.89,439.67 L271.20,438.72 L271.51,437.77 L271.83,436.82 L272.15,435.88 L272.47,434.93 L272.79,433.98 L273.12,433.04 L273.44,432.09 L273.77,431.15 L274.10,430.20 L274.43,429.26 L274.75,428.31 L275.08,427.37 L275.41,426.42 L275.74,425.48 L276.06,424.53 L276.38,423.59 L276.71,422.64 L277.03,421.69 L277.35,420.74 L277.67,419.80 L277.98,418.85 L278.30,417.90 L278.61,416.95 L278.92,416.00 L279.23,415.05 L279.54,414.10 L279.85,413.14 L280.16,412.19 L280.46,411.24 L280.77,410.29 L281.07,409.34 L281.37,408.38 L281.68,407.43 L281.98,406.48 L282.28,405.52 L282.58,404.57 L282.88,403.61 L283.17,402.66 L283.47,401.70 L283.77,400.75 L284.06,399.79 L284.36,398.84 L284.65,397.88 L284.94,396.93 L285.23,395.97 L285.52,395.01 L285.80,394.05 L286.09,393.09 L286.38,392.14 L286.66,391.18 L286.95,390.22 L287.23,389.26 L287.51,388.30 L287.80,387.34 L288.08,386.38 L288.36,385.42 L288.64,384.46 L288.93,383.51 L289.21,382.55 L289.49,381.59 L289.78,380.63 L290.06,379.67 L290.34,378.71 L290.63,377.75 L290.91,376.79 L291.20,375.83 L291.49,374.88 L291.77,373.92 L292.06,372.96 L292.35,372.00 L292.64,371.05 L292.93,370.09 L293.22,369.13 L293.50,368.17 L293.79,367.22 L294.08,366.26 L294.36,365.30 L294.65,364.34 L294.94,363.38 L295.22,362.43 L295.51,361.47 L295.79,360.51 L296.08,359.55 L296.37,358.59 L296.65,357.63 L296.94,356.68 L297.23,355.72 L297.51,354.76 L297.80,353.80 L298.09,352.84 L298.37,351.89 L298.66,350.93 L298.95,349.97 L299.24,349.01 L299.53,348.06 L299.82,347.10 L300.11,346.14 L300.40,345.19 L300.69,344.23 L300.99,343.27 L301.28,342.32 L301.58,341.36 L301.87,340.41 L302.17,339.45 L302.47,338.50 L302.77,337.55 L303.07,336.59 L303.37,335.64 L303.68,334.69 L303.98,333.73 L304.29,332.78 L304.60,331.83 L304.91,330.88 L305.22,329.93 L305.54,328.98 L305.86,328.03 L306.17,327.09 L306.49,326.14 L306.82,325.19 L307.14,324.24 L307.46,323.30 L307.78,322.35 L308.11,321.41 L308.44,320.46 L308.76,319.52 L309.09,318.57 L309.43,317.63 L309.76,316.69 L310.09,315.74 L310.43,314.80 L310.77,313.86 L311.11,312.92 L311.45,311.98 L311.80,311.04 L312.15,310.11 L312.50,309.17 L312.86,308.24 L313.22,307.30 L313.58,306.37 L313.95,305.44 L314.32,304.51 L314.70,303.59 L315.08,302.66 L315.46,301.74 L315.85,300.82 L316.25,299.90 L316.65,298.99 L317.06,298.07 L317.47,297.16 L317.88,296.25 L318.30,295.34 L318.72,294.44 L319.15,293.53 L319.58,292.63 L320.02,291.73 L320.46,290.83 L320.90,289.93 L321.35,289.04 L321.80,288.15 L322.26,287.26 L322.72,286.37 L323.18,285.49 L323.65,284.60 L324.12,283.72 L324.60,282.84 L325.08,281.96 L325.55,281.08 L326.03,280.21 L326.51,279.33 L327.00,278.46 L327.49,277.59 L328.00,276.73 L328.53,275.88 L329.08,275.05 L329.66,274.23 L330.28,273.45 L330.92,272.68 L331.58,271.94 L332.27,271.21 L332.97,270.50 L333.69,269.80 L334.41,269.11 L335.15,268.44 L335.89,267.76 L336.63,267.10 L337.38,266.43 L338.14,265.78 L338.89,265.12 L339.65,264.47 L340.42,263.83 L341.19,263.20 L341.97,262.57 L342.75,261.94 L343.53,261.31 L344.31,260.68 L345.09,260.06 L345.87,259.45 L346.67,258.84 L347.47,258.25 L348.29,257.67 L349.12,257.11 L349.96,256.57 L350.81,256.05 L351.68,255.55 L352.55,255.05 L353.42,254.58 L354.31,254.12 L355.22,253.71 L356.15,253.34 L357.09,253.04 L358.06,252.82 L359.04,252.69 L360.02,252.66 L361.01,252.73 L361.99,252.88 L362.96,253.12 L363.91,253.40 L364.85,253.74 L365.76,254.13 L366.66,254.58 L367.52,255.07 L368.36,255.61 L369.17,256.19 L369.97,256.79 L370.75,257.41 L371.53,258.04 L372.29,258.69 L373.04,259.35 L373.78,260.02 L374.50,260.71 L375.22,261.41 L375.92,262.12 L376.62,262.84 L377.31,263.57 L377.99,264.29 L378.68,265.02 L379.37,265.75 L380.05,266.48 L380.73,267.21 L381.41,267.94 L382.09,268.67 L382.77,269.41 L383.44,270.15 L384.11,270.90 L384.77,271.64 L385.44,272.39 L386.10,273.14 L386.76,273.89 L387.42,274.64 L388.08,275.39 L388.73,276.15 L389.39,276.91 L390.04,277.67 L390.69,278.43 L391.34,279.19 L391.98,279.95 L392.63,280.71 L393.27,281.48 L393.92,282.24 L394.56,283.01 L395.21,283.77 L395.85,284.53 L396.50,285.30 L397.14,286.06 L397.79,286.82 L398.44,287.59 L399.09,288.35 L399.74,289.11 L400.39,289.87 L401.04,290.62 L401.69,291.38 L402.34,292.14 L402.99,292.90 L403.64,293.66 L404.29,294.42 L404.94,295.18 L405.59,295.95 L406.23,296.71 L406.88,297.48 L407.52,298.24 L408.16,299.01 L408.79,299.78 L409.43,300.56 L410.06,301.33 L410.68,302.11 L411.30,302.90 L411.91,303.69 L412.52,304.48 L413.13,305.28 L413.73,306.08 L414.32,306.88 L414.92,307.69 L415.51,308.49 L416.11,309.30 L416.70,310.10 L417.30,310.90 L417.90,311.70 L418.50,312.50 L419.10,313.30 L419.71,314.09 L420.33,314.88 L420.95,315.66 L421.59,316.43 L422.23,317.20 L422.88,317.96 L423.53,318.71 L424.20,319.46 L424.86,320.21 L425.54,320.95 L426.22,321.68 L426.92,322.39 L427.63,323.09 L428.36,323.78 L429.11,324.43 L429.89,325.06 L430.68,325.66 L431.50,326.24 L432.33,326.80 L433.16,327.35 L434.01,327.87 L434.87,328.38 L435.74,328.87 L436.63,329.34 L437.52,329.78 L438.43,330.20 L439.35,330.60 L440.27,330.98 L441.20,331.35 L442.13,331.72 L443.06,332.08 L444.00,332.43 L444.94,332.77 L445.88,333.10 L446.83,333.40 L447.79,333.68 L448.76,333.93 L449.74,334.15 L450.72,334.34 L451.70,334.51 L452.69,334.67 L453.68,334.81 L454.67,334.95 L455.66,335.09 L456.65,335.22 L457.64,335.35 L458.63,335.47 L459.63,335.59 L460.62,335.71 L461.61,335.84 L462.60,335.96 L463.60,336.08 L464.59,336.20 L465.58,336.32 L466.57,336.44 L467.57,336.56 L468.56,336.68 L469.55,336.81 L470.54,336.94 L471.53,337.07 L472.52,337.21 L473.51,337.36 L474.50,337.51 L475.49,337.66 L476.48,337.81 L477.47,337.96 L478.46,338.11 L479.45,338.25 L480.44,338.38 L481.43,338.50 L482.42,338.61 L483.42,338.71 L484.42,338.81 L485.41,338.90 L486.40,339.01 L487.40,339.12 L488.39,339.26 L489.37,339.43 L490.33,339.67 L491.27,339.97 L492.18,340.37 L493.06,340.83 L493.91,341.35 L494.74,341.90 L495.56,342.48 L496.37,343.06 L497.17,343.66 L497.96,344.27 L498.74,344.90 L499.49,345.55 L500.24,346.22 L500.98,346.90 L501.71,347.58 L502.45,348.25 L503.20,348.91 L503.96,349.56 L504.75,350.17 L505.56,350.75 L506.39,351.30 L507.25,351.81 L508.13,352.29 L509.01,352.75 L509.91,353.19 L510.82,353.61 L511.74,354.00 L512.66,354.38 L513.60,354.73 L514.54,355.05 L515.50,355.35 L516.46,355.62 L517.42,355.89 L518.39,356.15 L519.36,356.39 L520.33,356.64 L521.30,356.87 L522.27,357.11 L523.24,357.34 L524.22,357.57 L525.19,357.80 L526.16,358.03 L527.14,358.26 L528.11,358.49 L529.08,358.72 L530.05,358.96 L531.03,359.19 L532.00,359.42 L532.97,359.64 L533.95,359.87 L534.92,360.10 L535.90,360.32 L536.87,360.55 L537.84,360.78 L538.82,361.02 L539.79,361.26 L540.75,361.51 L541.72,361.77 L542.68,362.04 L543.64,362.32 L544.60,362.60 L545.55,362.91 L546.50,363.22 L547.45,363.54 L548.39,363.87 L549.33,364.22 L550.27,364.57 L551.20,364.92 L552.13,365.29 L553.06,365.66 L553.99,366.04 L554.91,366.42 L555.83,366.81 L556.75,367.20 L557.67,367.59 L558.59,367.99 L559.51,368.39 L560.42,368.79 L561.34,369.19 L562.25,369.60 L563.16,370.02 L564.06,370.45 L564.96,370.88 L565.86,371.32 L566.76,371.77 L567.65,372.22 L568.54,372.67 L569.43,373.13 L570.32,373.59 L571.21,374.04 L572.10,374.49 L572.99,374.95 L573.88,375.40 L574.77,375.86 L575.66,376.32 L576.55,376.78 L577.44,377.24 L578.33,377.69 L579.22,378.14 L580.13,378.57 L581.03,378.98 L581.95,379.39 L582.87,379.78 L583.80,380.15 L584.72,380.52 L585.66,380.88 L586.59,381.24 L587.53,381.58 L588.48,381.91 L589.42,382.23 L590.37,382.55 L591.32,382.85 L592.28,383.15 L593.24,383.44 L594.19,383.72 L595.15,384.00 L596.12,384.28 L597.08,384.56 L598.04,384.83 L599.00,385.10 L599.96,385.38 L600.92,385.66 L601.88,385.94 L602.84,386.22 L603.80,386.51 L604.76,386.80 L605.71,387.08 L606.67,387.37 L607.63,387.66 L608.59,387.95 L609.54,388.24 L610.50,388.53 L611.46,388.82 L612.41,389.11 L613.37,389.40 L614.33,389.69 L615.29,389.98 L616.24,390.27 L617.20,390.56 L618.16,390.85 L619.11,391.15 L620.07,391.44 L621.03,391.73 L621.98,392.02 L622.94,392.31 L623.90,392.60 L624.85,392.89 L625.81,393.18 L626.77,393.46 L627.73,393.74 L628.69,394.01 L629.65,394.28 L630.62,394.56 L631.58,394.84 L632.54,395.12 L633.49,395.41 L634.45,395.71 L635.39,396.03 L636.34,396.35 L637.28,396.70 L638.21,397.06 L639.14,397.43 L640.06,397.81 L640.98,398.21 L641.89,398.62 L642.80,399.04 L643.71,399.46 L644.61,399.89 L645.51,400.32 L646.41,400.76 L647.31,401.20 L648.21,401.64 L649.11,402.07 L650.01,402.51 L650.91,402.94 L651.82,403.36 L652.72,403.79 L653.63,404.21 L654.53,404.63 L655.44,405.06 L656.35,405.48 L657.25,405.91 L658.16,406.33 L659.06,406.76 L659.97,407.18 L660.87,407.61 L661.78,408.03 L662.68,408.46 L663.58,408.88 L664.49,409.31 L665.40,409.73 L666.30,410.16 L667.21,410.58 L668.11,411.00 L669.02,411.42 L669.93,411.84 L670.84,412.26 L671.75,412.68 L672.65,413.10 L673.56,413.51 L674.47,413.93 L675.38,414.35 L676.29,414.76 L677.20,415.17 L678.11,415.59 L679.02,416.00 L679.93,416.42 L680.84,416.83 L681.75,417.25 L682.66,417.66 L683.57,418.08 L684.48,418.49 L685.39,418.91 L686.30,419.32 L687.21,419.74 L688.12,420.16 L689.03,420.57 L689.94,420.99 L690.85,421.41 L691.75,421.83 L692.66,422.25 L693.57,422.66 L694.48,423.08 L695.39,423.50 L696.29,423.92 L697.20,424.34 L698.11,424.76 L699.02,425.18 L699.92,425.60 L700.83,426.02 L701.74,426.44 L702.65,426.86 L703.55,427.29 L704.46,427.71 L705.36,428.13 L706.27,428.55 L707.18,428.98 L708.08,429.40 L708.99,429.83 L709.89,430.26 L710.79,430.68 L711.70,431.11 L712.60,431.54 L713.51,431.97 L714.41,432.39 L715.31,432.82 L716.22,433.25 L717.12,433.68 L718.03,434.10 L718.93,434.53 L719.84,434.95 L720.75,435.36 L721.66,435.78 L722.57,436.20 L723.48,436.61 L724.38,437.03 L725.29,437.46 L726.19,437.89 L727.09,438.32 L727.99,438.77 L728.88,439.23 L729.76,439.69 L730.64,440.18 L731.50,440.67 L732.36,441.19 L733.21,441.71 L734.06,442.25 L734.89,442.79 L735.73,443.34 L736.57,443.89 L737.40,444.44 L738.24,444.98 L739.09,445.52 L739.93,446.05 L740.79,446.56 L741.65,447.07 L742.52,447.56 L743.40,448.04 L744.28,448.51 L745.17,448.98 L746.05,449.44 L746.95,449.89 L747.84,450.34 L748.73,450.79 L749.63,451.23 L750.53,451.67 L751.42,452.12 L752.32,452.57 L753.21,453.02 L754.10,453.47 L754.99,453.93 L755.88,454.39 L756.77,454.84 L757.66,455.29 L758.56,455.72 L759.47,456.14 L760.39,456.54 L761.31,456.92 L762.25,457.27 L763.19,457.60 L764.14,457.90 L765.10,458.18 L766.07,458.44 L767.03,458.69 L768.01,458.93 L768.98,459.16 L769.95,459.39 L770.93,459.60 L771.91,459.81 L772.89,460.02 L773.87,460.22 L774.84,460.42 L775.83,460.62 L776.81,460.81 L777.79,460.99 L778.78,461.16 L779.76,461.34 L780.74,461.51 L781.73,461.69 L782.71,461.87 L783.69,462.06 L784.67,462.26 L785.65,462.47 L786.63,462.69 L787.60,462.93 L788.57,463.18 L789.53,463.44 L790.49,463.71 L791.45,464.00 L792.41,464.29 L793.36,464.59 L794.31,464.90 L795.26,465.21 L796.21,465.53 L797.16,465.85 L798.10,466.18 L799.04,466.53 L799.97,466.88 L800.91,467.24 L801.83,467.62 L802.76,468.00 L803.68,468.38 L804.60,468.77 L805.53,469.15 L806.45,469.53 L807.38,469.91 L808.31,470.27 L809.24,470.63 L810.18,470.98 L811.12,471.32 L812.06,471.66 L813.00,471.99 L813.95,472.32 L814.89,472.64 L815.84,472.97 L816.79,473.29 L817.74,473.61 L818.68,473.93 L819.63,474.24 L820.58,474.56 L821.53,474.88 L822.48,475.19 L823.43,475.50 L824.38,475.82 L825.33,476.13 L826.27,476.43 L827.20,476.73 L828.08,477.01 L828.90,477.27 L829.30,477.40" fill="none" stroke="#e92226" stroke-width="3" stroke-linecap="round" stroke-linejoin="round"/>
<path d="M80.50,295.40 L80.96,294.51 L81.42,293.62 L81.88,292.74 L82.35,291.85 L82.82,290.97 L83.31,290.10 L83.80,289.23 L84.30,288.36 L84.82,287.51 L85.36,286.67 L85.92,285.84 L86.50,285.03 L87.11,284.23 L87.73,283.45 L88.37,282.68 L89.01,281.92 L89.66,281.16 L90.33,280.41 L91.00,279.67 L91.69,278.95 L92.39,278.24 L93.12,277.55 L93.87,276.90 L94.65,276.28 L95.46,275.70 L96.31,275.18 L97.19,274.72 L98.10,274.30 L99.02,273.93 L99.96,273.59 L100.90,273.25 L101.84,272.89 L102.76,272.51 L103.66,272.09 L104.55,271.63 L105.42,271.14 L106.28,270.63 L107.12,270.09 L107.94,269.52 L108.74,268.93 L109.53,268.31 L110.29,267.67 L111.02,266.99 L111.72,266.28 L112.38,265.53 L113.01,264.75 L113.60,263.95 L114.17,263.13 L114.72,262.30 L115.26,261.45 L115.78,260.60 L116.30,259.75 L116.82,258.89 L117.33,258.03 L117.85,257.18 L118.37,256.32 L118.89,255.47 L119.41,254.61 L119.92,253.76 L120.43,252.90 L120.93,252.03 L121.43,251.17 L121.93,250.30 L122.43,249.43 L122.93,248.57 L123.44,247.70 L123.95,246.84 L124.46,245.99 L124.99,245.14 L125.52,244.29 L126.07,243.45 L126.61,242.62 L127.17,241.78 L127.72,240.95 L128.28,240.12 L128.84,239.29 L129.41,238.47 L129.97,237.64 L130.53,236.82 L131.09,235.99 L131.65,235.16 L132.20,234.32 L132.75,233.49 L133.29,232.65 L133.82,231.80 L134.36,230.95 L134.89,230.11 L135.42,229.26 L135.96,228.42 L136.50,227.58 L137.06,226.75 L137.63,225.93 L138.22,225.12 L138.84,224.33 L139.47,223.56 L140.12,222.80 L140.79,222.06 L141.48,221.34 L142.21,220.67 L142.99,220.07 L143.83,219.59 L144.71,219.29 L145.63,219.22 L146.54,219.39 L147.41,219.77 L148.23,220.30 L149.01,220.92 L149.74,221.59 L150.42,222.31 L151.06,223.08 L151.65,223.88 L152.21,224.71 L152.74,225.55 L153.25,226.41 L153.75,227.28 L154.23,228.15 L154.69,229.04 L155.12,229.94 L155.54,230.85 L155.93,231.77 L156.31,232.69 L156.68,233.62 L157.05,234.55 L157.43,235.47 L157.83,236.39 L158.25,237.30 L158.70,238.19 L159.19,239.06 L159.72,239.90 L160.29,240.72 L160.89,241.52 L161.51,242.30 L162.15,243.07 L162.81,243.82 L163.48,244.56 L164.16,245.29 L164.85,246.02 L165.54,246.74 L166.25,247.45 L166.96,248.15 L167.68,248.84 L168.40,249.53 L169.13,250.22 L169.85,250.92 L170.55,251.63 L171.24,252.35 L171.92,253.09 L172.57,253.84 L173.20,254.62 L173.82,255.40 L174.41,256.21 L175.00,257.02 L175.57,257.84 L176.13,258.67 L176.68,259.50 L177.23,260.34 L177.77,261.18 L178.30,262.02 L178.82,262.88 L179.34,263.74 L179.83,264.60 L180.31,265.48 L180.78,266.36 L181.23,267.26 L181.67,268.16 L182.09,269.06 L182.50,269.97 L182.89,270.89 L183.27,271.82 L183.63,272.75 L183.97,273.69 L184.28,274.64 L184.58,275.59 L184.85,276.56 L185.11,277.52 L185.35,278.49 L185.60,279.46 L185.84,280.43 L186.08,281.40 L186.32,282.37 L186.57,283.34 L186.82,284.31 L187.08,285.27 L187.35,286.24 L187.63,287.20 L187.90,288.16 L188.18,289.12 L188.46,290.08 L188.74,291.04 L189.03,292.00 L189.31,292.96 L189.59,293.92 L189.88,294.87 L190.16,295.83 L190.45,296.79 L190.73,297.75 L191.02,298.71 L191.30,299.67 L191.59,300.63 L191.87,301.59 L192.15,302.54 L192.44,303.50 L192.72,304.46 L193.00,305.42 L193.29,306.38 L193.57,307.34 L193.86,308.30 L194.14,309.26 L194.43,310.21 L194.71,311.17 L195.00,312.13 L195.28,313.09 L195.57,314.05 L195.85,315.01 L196.14,315.97 L196.42,316.92 L196.71,317.88 L197.00,318.84 L197.28,319.80 L197.57,320.76 L197.85,321.71 L198.14,322.67 L198.43,323.63 L198.72,324.59 L199.00,325.55 L199.29,326.50 L199.58,327.46 L199.87,328.42 L200.16,329.38 L200.45,330.33 L200.75,331.29 L201.05,332.24 L201.35,333.19 L201.65,334.15 L201.95,335.10 L202.26,336.05 L202.55,337.01 L202.85,337.96 L203.13,338.92 L203.41,339.88 L203.69,340.84 L203.95,341.81 L204.21,342.77 L204.47,343.74 L204.72,344.71 L204.96,345.68 L205.21,346.65 L205.45,347.62 L205.69,348.59 L205.93,349.56 L206.17,350.53 L206.41,351.50 L206.65,352.47 L206.89,353.44 L207.13,354.41 L207.37,355.38 L207.62,356.35 L207.86,357.32 L208.11,358.29 L208.35,359.26 L208.60,360.23 L208.85,361.20 L209.09,362.17 L209.34,363.14 L209.58,364.11 L209.83,365.08 L210.07,366.05 L210.32,367.02 L210.56,367.99 L210.81,368.96 L211.05,369.92 L211.30,370.89 L211.54,371.86 L211.79,372.83 L212.03,373.80 L212.27,374.77 L212.51,375.74 L212.75,376.72 L213.00,377.69 L213.24,378.66 L213.48,379.63 L213.73,380.60 L213.97,381.56 L214.22,382.53 L214.46,383.50 L214.71,384.47 L214.96,385.44 L215.22,386.41 L215.47,387.37 L215.73,388.34 L215.99,389.31 L216.24,390.27 L216.50,391.24 L216.76,392.20 L217.02,393.17 L217.29,394.14 L217.55,395.10 L217.81,396.07 L218.07,397.03 L218.33,398.00 L218.59,398.96 L218.85,399.93 L219.11,400.89 L219.37,401.86 L219.64,402.82 L219.90,403.79 L220.16,404.75 L220.42,405.72 L220.68,406.68 L220.94,407.65 L221.20,408.62 L221.46,409.58 L221.73,410.54 L222.00,411.51 L222.29,412.46 L222.58,413.42 L222.88,414.37 L223.19,415.32 L223.51,416.27 L223.84,417.22 L224.17,418.16 L224.52,419.10 L224.88,420.03 L225.25,420.96 L225.62,421.89 L226.00,422.81 L226.39,423.73 L226.79,424.65 L227.19,425.57 L227.61,426.47 L228.04,427.38 L228.49,428.27 L228.95,429.15 L229.44,430.03 L229.93,430.90 L230.45,431.75 L230.97,432.60 L231.52,433.44 L232.09,434.26 L232.68,435.06 L233.30,435.85 L233.94,436.62 L234.59,437.38 L235.25,438.13 L235.91,438.88 L236.57,439.63 L237.22,440.39 L237.86,441.16 L238.50,441.93 L239.14,442.70 L239.77,443.47 L240.41,444.24 L241.05,445.01 L241.69,445.78 L242.33,446.54 L242.98,447.30 L243.63,448.06 L244.28,448.82 L244.93,449.58 L245.58,450.34 L246.23,451.10 L246.89,451.85 L247.56,452.60 L248.24,453.33 L248.93,454.05 L249.65,454.75 L250.39,455.42 L251.14,456.07 L251.93,456.69 L252.72,457.29 L253.53,457.88 L254.36,458.45 L255.18,459.01 L256.02,459.56 L256.85,460.12 L257.67,460.68 L258.50,461.25 L259.31,461.82 L260.13,462.40 L260.94,462.98 L261.76,463.57 L262.57,464.15 L263.39,464.73 L264.20,465.30 L265.02,465.88 L265.84,466.45 L266.67,467.01 L267.50,467.56 L268.34,468.11 L269.19,468.64 L270.04,469.17 L270.89,469.69 L271.75,470.21 L272.61,470.72 L273.47,471.22 L274.33,471.73 L275.19,472.24 L276.05,472.75 L276.91,473.26 L277.77,473.77 L278.62,474.30 L279.47,474.82 L280.32,475.36 L281.16,475.89 L282.01,476.43 L282.85,476.97 L283.69,477.51 L284.53,478.05 L285.37,478.59 L286.21,479.13 L287.05,479.68 L287.89,480.22 L288.73,480.76 L289.57,481.31 L290.41,481.85 L291.25,482.40 L292.08,482.94 L292.92,483.50 L293.75,484.05 L294.57,484.62 L295.40,485.18 L296.22,485.75 L297.05,486.31 L297.87,486.88 L298.69,487.45 L299.51,488.02 L300.34,488.59 L301.16,489.15 L301.99,489.71 L302.82,490.27 L303.65,490.82 L304.49,491.37 L305.33,491.91 L306.18,492.44 L307.03,492.97 L307.89,493.48 L308.75,493.99 L309.62,494.48 L310.50,494.96 L311.38,495.42 L312.27,495.88 L313.17,496.33 L314.06,496.77 L314.96,497.21 L315.86,497.64 L316.77,498.07 L317.67,498.49 L318.58,498.90 L319.50,499.31 L320.42,499.70 L321.34,500.08 L322.27,500.45 L323.21,500.81 L324.15,501.14 L325.09,501.47 L326.05,501.77 L327.00,502.06 L327.97,502.32 L328.94,502.56 L329.91,502.78 L330.89,502.98 L331.87,503.17 L332.86,503.35 L333.84,503.52 L334.83,503.68 L335.82,503.84 L336.81,503.99 L337.79,504.14 L338.78,504.27 L339.78,504.41 L340.77,504.53 L341.76,504.65 L342.75,504.76 L343.75,504.87 L344.74,504.97 L345.74,505.07 L346.73,505.17 L347.73,505.27 L348.72,505.36 L349.72,505.45 L350.72,505.52 L351.72,505.58 L352.71,505.61 L353.71,505.62 L354.71,505.59 L355.71,505.53 L356.70,505.43 L357.69,505.28 L358.67,505.11 L359.65,504.90 L360.62,504.67 L361.59,504.43 L362.56,504.17 L363.52,503.91 L364.49,503.65 L365.46,503.40 L366.42,503.15 L367.40,502.91 L368.37,502.68 L369.34,502.44 L370.31,502.21 L371.28,501.97 L372.26,501.74 L373.23,501.50 L374.20,501.26 L375.17,501.03 L376.14,500.79 L377.12,500.56 L378.09,500.33 L379.06,500.11 L380.04,499.88 L381.01,499.66 L381.99,499.45 L382.96,499.23 L383.94,499.01 L384.92,498.79 L385.89,498.57 L386.87,498.36 L387.85,498.14 L388.82,497.93 L389.80,497.71 L390.78,497.50 L391.75,497.29 L392.73,497.08 L393.71,496.87 L394.69,496.67 L395.67,496.46 L396.65,496.26 L397.63,496.07 L398.61,495.87 L399.59,495.68 L400.57,495.49 L401.55,495.30 L402.54,495.12 L403.52,494.94 L404.50,494.76 L405.49,494.59 L406.47,494.42 L407.46,494.25 L408.45,494.08 L409.43,493.91 L410.42,493.74 L411.40,493.58 L412.39,493.41 L413.38,493.25 L414.36,493.09 L415.35,492.93 L416.34,492.77 L417.33,492.61 L418.31,492.46 L419.30,492.31 L420.29,492.16 L421.28,492.01 L422.27,491.87 L423.26,491.73 L424.25,491.59 L425.24,491.46 L426.23,491.33 L427.23,491.21 L428.22,491.08 L429.21,490.97 L430.20,490.85 L431.20,490.74 L432.19,490.63 L433.19,490.53 L434.18,490.42 L435.18,490.32 L436.17,490.22 L437.17,490.13 L438.16,490.04 L439.16,489.96 L440.16,489.90 L441.16,489.86 L442.16,489.83 L443.16,489.82 L444.16,489.82 L445.15,489.83 L446.15,489.85 L447.15,489.88 L448.15,489.91 L449.15,489.95 L450.15,489.99 L451.15,490.04 L452.15,490.09 L453.15,490.14 L454.15,490.20 L455.14,490.26 L456.14,490.32 L457.14,490.38 L458.14,490.44 L459.14,490.50 L460.13,490.57 L461.13,490.64 L462.13,490.71 L463.13,490.77 L464.13,490.85 L465.12,490.92 L466.12,490.99 L467.12,491.06 L468.11,491.14 L469.11,491.21 L470.11,491.28 L471.11,491.36 L472.10,491.43 L473.10,491.50 L474.10,491.58 L475.10,491.65 L476.09,491.72 L477.09,491.79 L478.09,491.86 L479.09,491.93 L480.08,492.00 L481.08,492.07 L482.08,492.13 L483.08,492.19 L484.08,492.26 L485.07,492.32 L486.07,492.39 L487.07,492.45 L488.07,492.51 L489.06,492.58 L490.06,492.65 L491.06,492.72 L492.06,492.79 L493.05,492.87 L494.05,492.95 L495.05,493.05 L496.04,493.17 L497.03,493.31 L498.01,493.47 L499.00,493.63 L499.99,493.80 L500.97,493.95 L501.96,494.08 L502.96,494.18 L503.95,494.23 L504.95,494.25 L505.95,494.22 L506.95,494.15 L507.94,494.06 L508.93,493.95 L509.93,493.82 L510.92,493.68 L511.91,493.53 L512.90,493.39 L513.89,493.26 L514.88,493.13 L515.87,493.02 L516.87,492.92 L517.86,492.82 L518.86,492.74 L519.85,492.66 L520.85,492.58 L521.85,492.50 L522.85,492.43 L523.84,492.35 L524.84,492.27 L525.84,492.19 L526.83,492.10 L527.83,492.00 L528.82,491.89 L529.81,491.76 L530.80,491.61 L531.78,491.44 L532.76,491.24 L533.74,491.03 L534.71,490.80 L535.68,490.56 L536.65,490.31 L537.62,490.05 L538.58,489.78 L539.54,489.50 L540.49,489.20 L541.43,488.86 L542.35,488.48 L543.26,488.07 L544.15,487.62 L545.03,487.14 L545.90,486.65 L546.76,486.13 L547.60,485.59 L548.41,485.02 L549.20,484.41 L549.95,483.75 L550.67,483.06 L551.36,482.34 L552.02,481.59 L552.67,480.83 L553.29,480.05 L553.89,479.25 L554.46,478.43 L555.01,477.59 L555.53,476.74 L556.03,475.88 L556.51,475.00 L556.99,474.12 L557.45,473.24 L557.91,472.35 L558.37,471.46 L558.83,470.58 L559.30,469.69 L559.77,468.81 L560.25,467.93 L560.73,467.05 L561.21,466.18 L561.69,465.30 L562.18,464.43 L562.66,463.55 L563.14,462.67 L563.63,461.80 L564.11,460.92 L564.59,460.05 L565.08,459.17 L565.56,458.30 L566.05,457.42 L566.53,456.55 L567.01,455.67 L567.50,454.80 L567.98,453.92 L568.47,453.05 L568.95,452.17 L569.44,451.30 L569.93,450.43 L570.41,449.55 L570.90,448.68 L571.38,447.80 L571.87,446.93 L572.35,446.05 L572.83,445.18 L573.31,444.30 L573.79,443.42 L574.26,442.54 L574.73,441.66 L575.20,440.77 L575.67,439.89 L576.14,439.01 L576.62,438.13 L577.10,437.26 L577.60,436.39 L578.11,435.53 L578.63,434.68 L579.17,433.83 L579.73,433.00 L580.30,432.18 L580.88,431.37 L581.48,430.57 L582.08,429.77 L582.70,428.99 L583.33,428.21 L583.97,427.44 L584.61,426.68 L585.27,425.92 L585.92,425.16 L586.58,424.41 L587.23,423.65 L587.89,422.90 L588.55,422.15 L589.22,421.41 L589.90,420.67 L590.58,419.94 L591.28,419.23 L592.00,418.53 L592.73,417.85 L593.48,417.19 L594.25,416.55 L595.03,415.93 L595.82,415.32 L596.62,414.72 L597.43,414.13 L598.25,413.55 L599.07,412.98 L599.89,412.42 L600.72,411.86 L601.55,411.31 L602.39,410.76 L603.23,410.22 L604.07,409.68 L604.92,409.14 L605.77,408.61 L606.61,408.08 L607.46,407.55 L608.31,407.02 L609.15,406.48 L609.99,405.94 L610.83,405.39 L611.66,404.84 L612.49,404.28 L613.32,403.73 L614.15,403.17 L614.99,402.62 L615.84,402.09 L616.69,401.57 L617.56,401.07 L618.44,400.60 L619.33,400.17 L620.25,399.76 L621.18,399.40 L622.12,399.06 L623.07,398.74 L624.02,398.44 L624.98,398.16 L625.94,397.90 L626.91,397.65 L627.88,397.42 L628.86,397.21 L629.84,397.02 L630.83,396.85 L631.81,396.70 L632.81,396.56 L633.80,396.44 L634.79,396.33 L635.79,396.23 L636.78,396.14 L637.78,396.08 L638.78,396.04 L639.78,396.03 L640.77,396.05 L641.77,396.10 L642.77,396.19 L643.76,396.30 L644.75,396.44 L645.74,396.60 L646.72,396.79 L647.70,396.98 L648.68,397.20 L649.65,397.42 L650.62,397.65 L651.59,397.89 L652.56,398.14 L653.52,398.41 L654.48,398.71 L655.43,399.02 L656.37,399.36 L657.30,399.71 L658.23,400.07 L659.16,400.45 L660.08,400.84 L661.00,401.23 L661.92,401.63 L662.84,402.03 L663.75,402.43 L664.66,402.84 L665.57,403.26 L666.48,403.68 L667.38,404.12 L668.28,404.56 L669.17,405.00 L670.06,405.46 L670.95,405.91 L671.84,406.37 L672.73,406.83 L673.62,407.29 L674.51,407.74 L675.40,408.20 L676.28,408.66 L677.17,409.13 L678.06,409.59 L678.94,410.06 L679.82,410.53 L680.71,411.00 L681.59,411.47 L682.47,411.94 L683.35,412.41 L684.24,412.87 L685.13,413.33 L686.02,413.79 L686.91,414.25 L687.80,414.70 L688.69,415.14 L689.59,415.59 L690.49,416.02 L691.39,416.46 L692.29,416.90 L693.19,417.33 L694.09,417.76 L695.00,418.19 L695.90,418.62 L696.80,419.05 L697.70,419.48 L698.61,419.91 L699.51,420.34 L700.41,420.78 L701.31,421.22 L702.21,421.66 L703.10,422.10 L704.00,422.55 L704.89,423.00 L705.78,423.45 L706.67,423.91 L707.56,424.37 L708.44,424.83 L709.33,425.30 L710.21,425.77 L711.09,426.24 L711.97,426.72 L712.85,427.19 L713.73,427.67 L714.61,428.15 L715.49,428.63 L716.36,429.11 L717.24,429.59 L718.11,430.07 L718.99,430.56 L719.87,431.04 L720.74,431.52 L721.62,432.01 L722.49,432.49 L723.36,432.98 L724.23,433.47 L725.10,433.97 L725.97,434.46 L726.84,434.97 L727.70,435.47 L728.56,435.98 L729.41,436.50 L730.26,437.03 L731.11,437.56 L731.95,438.10 L732.79,438.65 L733.62,439.20 L734.45,439.76 L735.28,440.32 L736.11,440.88 L736.93,441.44 L737.76,442.00 L738.59,442.56 L739.42,443.11 L740.26,443.67 L741.09,444.22 L741.92,444.78 L742.75,445.33 L743.58,445.89 L744.42,446.44 L745.25,447.00 L746.08,447.55 L746.92,448.10 L747.76,448.64 L748.60,449.18 L749.45,449.70 L750.31,450.22 L751.16,450.74 L752.03,451.24 L752.89,451.74 L753.76,452.24 L754.63,452.74 L755.50,453.23 L756.37,453.72 L757.25,454.19 L758.14,454.65 L759.03,455.10 L759.94,455.52 L760.85,455.92 L761.78,456.29 L762.72,456.64 L763.67,456.95 L764.62,457.25 L765.58,457.53 L766.55,457.79 L767.51,458.05 L768.48,458.29 L769.45,458.52 L770.43,458.75 L771.40,458.97 L772.38,459.19 L773.36,459.41 L774.33,459.62 L775.31,459.82 L776.29,460.02 L777.27,460.21 L778.25,460.40 L779.24,460.59 L780.22,460.77 L781.20,460.95 L782.19,461.14 L783.17,461.33 L784.15,461.54 L785.12,461.75 L786.10,461.97 L787.07,462.20 L788.04,462.45 L789.01,462.71 L789.97,462.97 L790.93,463.25 L791.89,463.54 L792.84,463.83 L793.80,464.13 L794.75,464.44 L795.70,464.76 L796.64,465.08 L797.59,465.40 L798.53,465.74 L799.47,466.09 L800.40,466.45 L801.33,466.81 L802.26,467.19 L803.18,467.57 L804.10,467.96 L805.03,468.34 L805.95,468.73 L806.88,469.10 L807.81,469.48 L808.74,469.84 L809.67,470.19 L810.61,470.53 L811.55,470.87 L812.50,471.21 L813.44,471.53 L814.39,471.86 L815.33,472.18 L816.28,472.50 L817.23,472.83 L818.17,473.14 L819.12,473.46 L820.07,473.79 L821.02,474.11 L821.96,474.43 L822.91,474.75 L823.86,475.07 L824.80,475.39 L825.75,475.71 L826.69,476.02 L827.60,476.33 L828.47,476.62 L829.30,476.90 L829.30,476.90" fill="none" stroke="#1c6db6" stroke-width="3" stroke-linecap="round" stroke-linejoin="round"/>
</g>
<line x1="690" y1="68.05" x2="724" y2="68.05" stroke="#30a852" stroke-width="3" stroke-linecap="round"/>
<text x="727.8" y="72.55" class="leg">G</text>
<line x1="690" y1="106.9" x2="724" y2="106.9" stroke="#e92226" stroke-width="3" stroke-linecap="round"/>
<text x="727.8" y="111.40" class="leg">R</text>
<line x1="690" y1="145.4" x2="724" y2="145.4" stroke="#1c6db6" stroke-width="3" stroke-linecap="round"/>
<text x="727.8" y="149.90" class="leg">B</text>
</svg>
</body></html>
